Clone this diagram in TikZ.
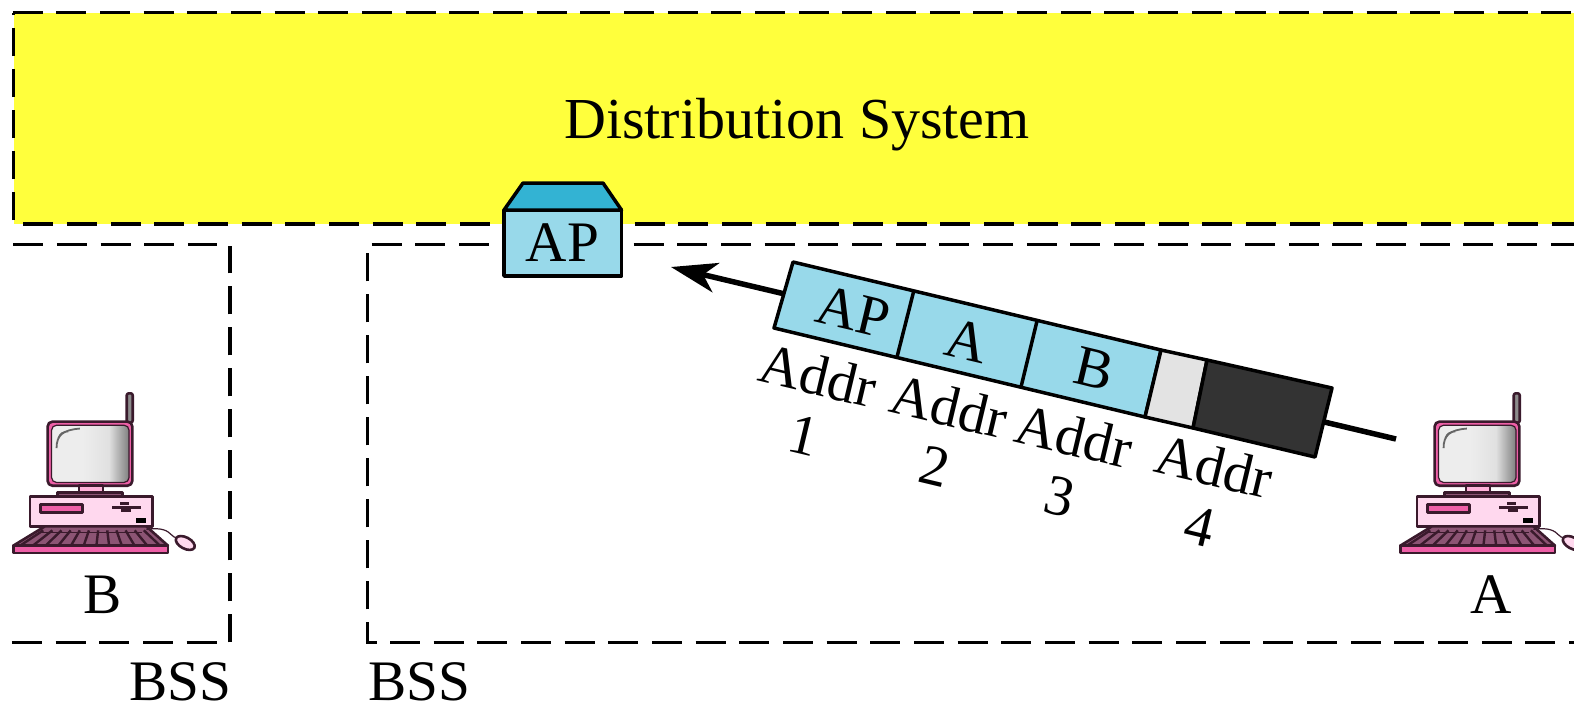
\documentclass[tikz,border=0pt]{standalone}
\usepackage{fontspec}
\setmainfont{Liberation Serif}
\usetikzlibrary{arrows.meta}
\definecolor{dsyellow}{HTML}{FFFF3C}
\definecolor{apblue}{HTML}{98D9EA}
\definecolor{aproof}{HTML}{33B3D3}
\definecolor{pcdark}{HTML}{3A1A2C}
\definecolor{pchot}{HTML}{EE5FA7}
\definecolor{pcpale}{HTML}{FFD8EE}
\definecolor{pcmid}{HTML}{FFB3DA}
\definecolor{pcmauve}{HTML}{8C5474}
\pgfdeclarehorizontalshading{screenshade}{100bp}{color(0bp)=(white!93!black); color(45bp)=(white!93!black); color(62bp)=(white!88!black); color(75bp)=(white!50!black); color(100bp)=(white!55!black)}
\tikzset{
  hdash/.style={line width=0.034cm,dash pattern=on 0.30cm off 0.1367cm},
  vdash/.style={line width=0.034cm,dash pattern=on 0.28cm off 0.13cm},
  outline/.style={draw=black,line width=0.035cm,line join=round},
  label/.style={font=\fontsize{16.3}{17.4}\selectfont,inner sep=0pt},
  addrlabel/.style={label,rotate=-13.4,align=center},
  pcline/.style={draw=pcdark,line width=0.026cm,line join=round},
  computer/.pic={
    \begin{scope}[x=0.003333cm,y=0.003333cm]
    % antenna
    \draw [pcline,fill=white!55!black,rounded corners=0.02cm] (381,40) rectangle (399,128);
    % monitor
    \draw [pcline,fill=pchot,rounded corners=0.05cm] (143,125) rectangle (398,318);
    \draw [draw=pcdark,line width=0.012cm,shading=screenshade,rounded corners=0.05cm] (155,136) rectangle (388,308);
    \draw [draw=white!40!black,line width=0.018cm] (170,205) .. controls (170,165) and (190,150) .. (240,146);
    \draw [draw=white!40!black,line width=0.014cm] (175,175) .. controls (180,160) and (190,155) .. (205,155);
    % stand
    \draw [pcline,fill=pcmid] (238,318) rectangle (310,338);
    \draw [pcline,fill=pcmauve] (172,338) rectangle (368,352);
    % case
    \draw [pcline,fill=pcpale] (90,350) rectangle (458,440);
    \draw [pcline,fill=pchot] (122,374) rectangle (248,398);
    \fill [pcdark] (338,378) rectangle (424,387);
    \fill [pcdark] (360,368) rectangle (388,377);
    \fill [pcdark] (365,388) rectangle (395,397);
    \fill [black] (408,415) rectangle (438,430);
    % keyboard
    \draw [pcline,fill=pcmauve] (135,440) -- (440,440) -- (505,498) -- (40,498) -- cycle;
    \foreach \i in {0,...,11}
      \draw [draw=pcdark,line width=0.024cm] ({130+\i*27.5},452) -- ({62+\i*38},497);
    \draw [draw=pcdark,line width=0.012cm] (122,458) -- (428,458);
    \draw [pcline,fill=pchot] (40,498) rectangle (505,520);
    % mouse
    \draw [draw=pcdark,line width=0.012cm] (440,449) .. controls (490,442) and (505,455) .. (515,465) .. controls (520,472) and (525,472) .. (532,475);
    \draw [pcline,fill=pcpale,rotate around={28:(557,490)}] (557,490) ellipse (31 and 17);
    \end{scope}
  }
}
\begin{document}
\begin{tikzpicture}[x=1cm,y=-1cm]
\clip (0,0) rectangle (15.74,7.04);

% Drawing distribution system
\fill [dsyellow] (0.137,0.127) rectangle (15.80,2.24);
\draw [hdash] (0.127,0.127) -- (15.80,0.127);
\draw [vdash] (0.137,2.20) -- (0.137,0.127);
\draw [hdash] (0.233,2.24) -- (15.80,2.24);
\node (ds) [label,font=\fontsize{16.5}{18}\selectfont] at (7.97,1.25) {Distribution System};

% Drawing BSS boxes
\draw [hdash] (0.133,2.447) -- (2.173,2.447);
\draw [vdash] (2.30,6.423) -- (2.30,2.46);
\draw [hdash] (0.12,6.423) -- (2.167,6.423);
\draw [hdash] (3.717,2.447) -- (15.80,2.447);
\draw [vdash,dash phase=0.08cm] (3.677,6.423) -- (3.677,2.53);
\draw [line width=0.034cm] (3.66,6.423) -- (3.767,6.423);
\draw [hdash] (3.90,6.423) -- (15.80,6.423);
\node (bssb) [label,anchor=base east] at (2.32,7.00) {BSS};
\node (bssa) [label,anchor=base west] at (3.68,7.00) {BSS};

% Drawing access point
\draw [outline,fill=apblue] (5.04,2.10) rectangle (6.215,2.76);
\draw [outline,fill=aproof] (5.04,2.10) -- (5.23,1.83) -- (6.03,1.83) -- (6.215,2.10) -- cycle;
\node (ap) [label] at (5.625,2.43) {AP};

% Drawing frame path
\coordinate (tail) at (13.96,4.39);
\coordinate (tip) at (6.71,2.67);
\draw [line width=0.055cm,-{Stealth[length=0.46cm,width=0.30cm,inset=0.13cm]}] (tail) -- (tip);

% Drawing frame fields
\coordinate (f0t) at (7.93,2.62);
\coordinate (f1t) at (9.14,2.90);
\coordinate (f2t) at (10.37,3.21);
\coordinate (f3t) at (11.61,3.50);
\coordinate (f4t) at (12.07,3.60);
\coordinate (f5t) at (13.32,3.88);
\coordinate (f0b) at (7.74,3.28);
\coordinate (f1b) at (8.97,3.57);
\coordinate (f2b) at (10.21,3.87);
\coordinate (f3b) at (11.45,4.17);
\coordinate (f4b) at (11.93,4.28);
\coordinate (f5b) at (13.15,4.57);
\draw [outline,fill=apblue] (f0t) -- (f3t) -- (f3b) -- (f0b) -- cycle;
\draw [outline,fill=white!89!black] (f3t) -- (f4t) -- (f4b) -- (f3b) -- cycle;
\draw [outline,fill=white!20!black] (f4t) -- (f5t) -- (f5b) -- (f4b) -- cycle;
\draw [outline] (f1t) -- (f1b);
\draw [outline] (f2t) -- (f2b);
\node (fap) [addrlabel] at (8.53,3.12) {AP};
\node (fa) [addrlabel] at (9.67,3.41) {A};
\node (fb) [addrlabel] at (10.94,3.69) {B};

% Marking addresses
\node (addr1) [addrlabel] at (8.11,4.05) {Addr\\1};
\node (addr2) [addrlabel] at (9.42,4.36) {Addr\\2};
\node (addr3) [addrlabel] at (10.67,4.66) {Addr\\3};
\node (addr4) [addrlabel] at (12.07,4.96) {Addr\\4};

% Drawing stations
\pic [yscale=-1] at (0,3.80) {computer};
\pic [yscale=-1] at (13.87,3.80) {computer};
\node (stb) [label,anchor=base] at (1.03,6.13) {B};
\node (sta) [label,anchor=base] at (14.91,6.13) {A};
\end{tikzpicture}
\end{document}
